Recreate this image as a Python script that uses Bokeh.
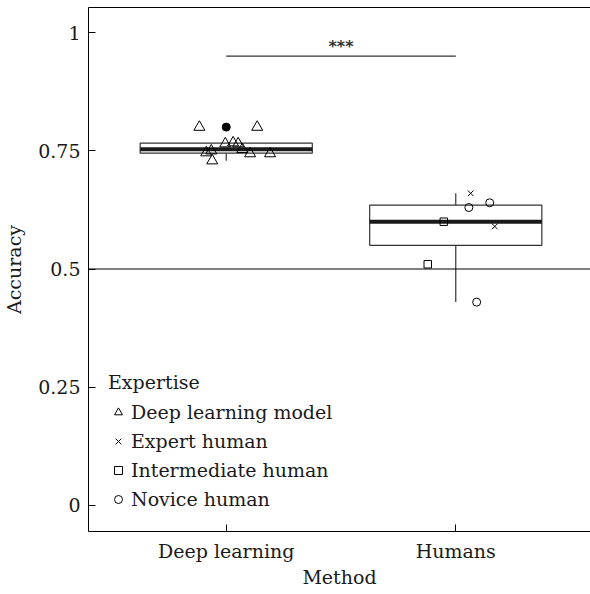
import numpy as np
from bokeh.plotting import figure
from bokeh.models import (ColumnDataSource, Span, Legend, LegendItem, LinearAxis,
                          FixedTicker, Range1d)
from bokeh.embed import file_html
from bokeh.resources import INLINE
from bokeh.core.properties import value

# ---------------- data ----------------
categories = ["Deep learning", "Humans"]
cat_pos = [1, 2]
expertise = ["Deep learning model", "Expert human", "Intermediate human", "Novice human"]

dl_acc = [0.80, 0.80, 0.765, 0.767, 0.765, 0.746, 0.750, 0.729, 0.744, 0.744, 0.753]
dl_jitter = [-0.117, 0.135, -0.004, 0.030, 0.052, -0.087, -0.065, -0.061, 0.104, 0.191, 0.07]

expert_acc = [0.66, 0.59]
expert_jitter = [0.065, 0.17]
inter_acc = [0.60, 0.51]
inter_jitter = [-0.052, -0.122]
novice_acc = [0.63, 0.64, 0.43]
novice_jitter = [0.057, 0.148, 0.091]

y_ticks = [0, 0.25, 0.5, 0.75, 1]
y_tick_labels = ["0", "0.25", "0.5", "0.75", "1"]
chance_level = 0.5
sig_y = 0.95
sig_label = "***"

FONT = "DejaVu Serif"
TXT = "#1a1a1a"


def box_stats(vals):
    v = np.asarray(vals, dtype=float)
    q1, med, q3 = np.percentile(v, [25, 50, 75])
    iqr = q3 - q1
    lo_f, hi_f = q1 - 1.5 * iqr, q3 + 1.5 * iqr
    lo = v[v >= lo_f].min()
    hi = v[v <= hi_f].max()
    out = v[(v < lo_f) | (v > hi_f)]
    return q1, med, q3, lo, hi, out


groups = [dl_acc, expert_acc + inter_acc + novice_acc]
stats = [box_stats(g) for g in groups]

box_src = ColumnDataSource(dict(
    x=cat_pos,
    xl=[c - 0.375 for c in cat_pos], xr=[c + 0.375 for c in cat_pos],
    q1=[s[0] for s in stats], med=[s[1] for s in stats], q3=[s[2] for s in stats],
    lo=[s[3] for s in stats], hi=[s[4] for s in stats],
))
out_x, out_y = [], []
for c, s in zip(cat_pos, stats):
    for o in np.unique(s[5]):
        out_x.append(c)
        out_y.append(float(o))

# ---------------- figure ----------------
p = figure(width=590, height=594,
           x_range=Range1d(0.4, 2.587), y_range=Range1d(-0.055, 1.0529),
           output_backend="svg", toolbar_location=None,
           min_border_left=87, min_border_right=0, min_border_top=7, min_border_bottom=63)
p.outline_line_color = None
p.grid.visible = False
p.background_fill_color = "white"

# chance line
p.add_layout(Span(location=chance_level, dimension="width", line_color="black", line_width=1))

# whiskers
p.segment(x0="x", y0="q3", x1="x", y1="hi", source=box_src, line_color="#333333", line_width=1.2)
p.segment(x0="x", y0="q1", x1="x", y1="lo", source=box_src, line_color="#333333", line_width=1.2)
# boxes
p.vbar(x="x", width=0.75, top="q3", bottom="q1", source=box_src,
       fill_color="white", line_color="#333333", line_width=1.2)
# median
p.segment(x0="xl", y0="med", x1="xr", y1="med", source=box_src, line_color="#1a1a1a", line_width=4)
# outliers
p.scatter(out_x, out_y, marker="circle", size=8, fill_color="black", line_color="black")

# jittered points
r_dl = p.scatter([cat_pos[0] + j for j in dl_jitter], dl_acc, marker="triangle", size=11,
                 fill_color=None, line_color="black", line_width=1)
r_ex = p.scatter([cat_pos[1] + j for j in expert_jitter], expert_acc, marker="x", size=8,
                 line_color="black", line_width=1)
r_in = p.scatter([cat_pos[1] + j for j in inter_jitter], inter_acc, marker="square", size=7.5,
                 fill_color=None, line_color="black", line_width=1)
r_no = p.scatter([cat_pos[1] + j for j in novice_jitter], novice_acc, marker="circle", size=8,
                 fill_color=None, line_color="black", line_width=1)

# significance bar
p.segment(x0=[cat_pos[0]], y0=[sig_y], x1=[cat_pos[1]], y1=[sig_y], line_color="#333333", line_width=1.2)
p.text(x=[(cat_pos[0] + cat_pos[1]) / 2], y=[sig_y + 0.021], text=[sig_label],
       text_font=value("DejaVu Sans"), text_font_size="16px", text_font_style="bold",
       text_align="center", text_baseline="middle", text_color="#333333")

# ---------------- axes ----------------
xa = p.xaxis[0]
xa.ticker = FixedTicker(ticks=cat_pos)
xa.major_label_overrides = {c: lab for c, lab in zip(cat_pos, categories)}
xa.axis_label = "Method"
ya = p.yaxis[0]
ya.ticker = FixedTicker(ticks=y_ticks)
ya.major_label_overrides = {t: lab for t, lab in zip(y_ticks, y_tick_labels)}
ya.axis_label = "Accuracy"

for ax in (xa, ya):
    ax.axis_line_color = "black"
    ax.axis_line_width = 1
    ax.major_tick_line_color = "black"
    ax.major_tick_in = 7
    ax.major_tick_out = 0
    ax.minor_tick_line_color = None
    ax.major_label_text_font = FONT
    ax.major_label_text_font_size = "19px"
    ax.major_label_text_color = TXT
    ax.major_label_standoff = 8
    ax.axis_label_text_font = FONT
    ax.axis_label_text_font_size = "19px"
    ax.axis_label_text_font_style = "normal"
    ax.axis_label_text_color = TXT
xa.axis_label_standoff = 1
ya.axis_label_standoff = 10

top = LinearAxis(ticker=FixedTicker(ticks=[]), major_label_text_font_size="0px",
                 major_tick_line_color=None, minor_tick_line_color=None,
                 axis_line_color="black", axis_line_width=1)
p.add_layout(top, "above")

# ---------------- legend ----------------
legend = Legend(
    items=[LegendItem(label=lab, renderers=[r]) for lab, r in zip(expertise, [r_dl, r_ex, r_in, r_no])],
    location=(20, 21), title="Expertise",
    title_text_font=FONT, title_text_font_size="19px", title_text_font_style="normal",
    title_text_color=TXT, title_standoff=8,
    label_text_font=FONT, label_text_font_size="19px", label_text_color=TXT,
    border_line_color=None, background_fill_alpha=0, padding=0, margin=0,
    spacing=7, glyph_width=20, glyph_height=20, label_height=22, label_standoff=3,
)
p.add_layout(legend)

open("out.html", "w").write(file_html(p, INLINE))
